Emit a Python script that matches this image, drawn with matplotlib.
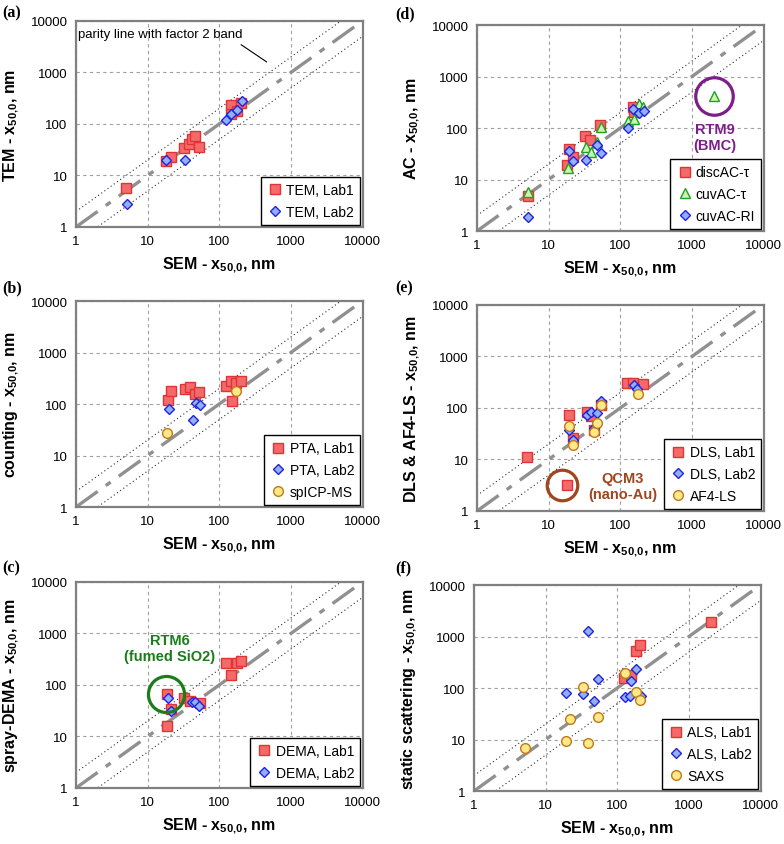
import numpy as np
import matplotlib
matplotlib.use("Agg")
import matplotlib.pyplot as plt

plt.rcParams['font.family'] = ['Liberation Sans', 'DejaVu Sans']
plt.rcParams['mathtext.fontset'] = 'custom'
plt.rcParams['mathtext.rm'] = 'Liberation Sans:bold'
plt.rcParams['mathtext.it'] = 'Liberation Sans:bold'
plt.rcParams['mathtext.bf'] = 'Liberation Sans:bold'

# ---- data (SEM x50,0 vs. other method, nm) ----
# (a) TEM
tem1_x = [5.0, 18, 21, 32.5, 38, 42, 46, 52, 146, 146, 176, 203]
tem1_y = [5.7, 19.5, 22.6, 34, 40.5, 50, 57.5, 35, 232, 156, 182, 255]
tem2_x = [5.1, 18.2, 33, 125, 147, 176, 208]
tem2_y = [2.75, 19.8, 20.4, 121, 157, 184, 280]

# (b) counting
pta1_x = [19.3, 21.5, 33.3, 39, 46, 52, 124, 146, 172, 204, 150]
pta1_y = [120, 181, 192, 210, 154, 168, 220, 283, 255, 283, 113]
pta2_x = [19.8, 47, 54, 42.7]
pta2_y = [80, 105, 96, 50]
spicp_x = [18.5, 172]
spicp_y = [27, 181]

# (c) spray-DEMA
dema1_x = [18.5, 18.5, 21.2, 32, 38.9, 53.5, 125, 147, 175, 204]
dema1_y = [66.9, 16.2, 34.2, 55, 48.9, 44, 267, 156, 267, 297]
dema2_x = [19.1, 21.2, 41.9, 46.6, 52.8]
dema2_y = [55, 30.8, 46, 47.4, 39.7]

# (d) AC
disc_x = [5.1, 18, 19, 21.6, 32.5, 37.8, 52, 149, 156]
disc_y = [4.7, 19.3, 38.4, 27.2, 70, 57.5, 113, 256, 205]
cuvt_x = [5.2, 18.6, 33, 39, 46.8, 53, 128, 156, 180, 209, 2050]
cuvt_y = [5.7, 17.1, 42.7, 35, 53.4, 105, 137, 152, 298, 256, 414]
cuvri_x = [5.2, 19, 21.6, 33.5, 47.3, 53, 128, 152, 180, 213]
cuvri_y = [1.87, 36, 23.4, 24.2, 47.3, 33, 101, 238, 199, 211]

# (e) DLS & AF4-LS
dls1_x = [5.0, 17.8, 19.1, 21.8, 34, 39.1, 42.7, 53.8, 124, 152, 211]
dls1_y = [11.3, 3.2, 71.8, 26.2, 82, 69.7, 38.2, 113, 300, 300, 291]
dls2_x = [19.4, 21.8, 34, 39.1, 42.7, 47.3, 53.8, 156, 174]
dls2_y = [37.6, 23.9, 74, 83.6, 40, 79.8, 135, 278, 232]
af4_x = [19.4, 21.8, 42.7, 47.3, 53.8, 178]
af4_y = [44.4, 18.8, 33.8, 51.5, 113, 191]

# (f) static scattering
als1_x = [126, 153, 180, 209, 2020]
als1_y = [156, 176, 515, 673, 1890]
als2_x = [19, 33.2, 39, 47.2, 53.7, 129, 149, 155, 184, 216]
als2_y = [81, 75.4, 1280, 55, 147, 68, 70, 137, 237, 70]
saxs_x = [5.1, 19, 21.6, 33.2, 39, 53.2, 128, 180, 209]
saxs_y = [6.8, 9.2, 25.4, 106, 8.4, 27.7, 195, 83.6, 58.5]

ticks = [1, 10, 100, 1000, 10000]
tick_labels = ['1', '10', '100', '1000', '10000']

RED = dict(marker='s', ms=7.4, mfc='#f46a6a', mec='#e03434', mew=1.0, ls='none')
BLUE = dict(marker='D', ms=5.4, mfc='#90b0ff', mec='#2222dd', mew=1.0, ls='none')
YEL = dict(marker='o', ms=7.0, mfc='#ffe888', mec='#c07818', mew=1.0, ls='none')
GRN = dict(marker='^', ms=7.8, mfc='#c8f4b8', mec='#22a022', mew=1.0, ls='none')

SUB = r' - $x_{50{,}0}$, nm'


def setup(ax, ylabel):
    ax.set_xscale('log')
    ax.set_yscale('log')
    ax.set_xlim(1, 10000)
    ax.set_ylim(1, 10000)
    ax.set_xticks(ticks)
    ax.set_xticklabels(tick_labels)
    ax.set_yticks(ticks)
    ax.set_yticklabels(tick_labels)
    ax.minorticks_off()
    ax.tick_params(length=0, pad=6, labelsize=9.5)
    ax.grid(True, color='#a0a0a0', ls=(0, (3, 3)), lw=0.8)
    ax.set_axisbelow(True)
    for s in ax.spines.values():
        s.set_color('#808080')
        s.set_linewidth(1.6)
    xx = np.array([1, 10000])
    ax.plot(xx, xx, color='#909090', lw=2.4, ls=(0, (8, 3, 1.8, 3)), zorder=1.5)
    ax.plot(xx, 2 * xx, color='#303030', lw=0.8, ls=(0, (1, 2.5)), zorder=1.5)
    ax.plot(xx, xx / 2, color='#303030', lw=0.8, ls=(0, (1, 2.5)), zorder=1.5)
    ax.set_xlabel('SEM' + SUB, fontsize=11.5, fontweight='bold', labelpad=5)
    ax.set_ylabel(ylabel + SUB, fontsize=11.5, fontweight='bold', labelpad=7)


def legend(ax):
    leg = ax.legend(loc='lower right', fontsize=10, frameon=True, fancybox=False,
                    edgecolor='black', borderaxespad=0.15, handletextpad=0.2,
                    handlelength=1.2, labelspacing=0.55, borderpad=0.45)
    leg.get_frame().set_linewidth(1.0)
    leg.get_frame().set_alpha(1)


fig = plt.figure(figsize=(7.84, 8.45), dpi=100)
W, H = 0.3655, 0.2438
ax_a = fig.add_axes([0.0969, 0.7302, W, H])
ax_d = fig.add_axes([0.6084, 0.7254, W, H])
ax_b = fig.add_axes([0.0969, 0.3988, W, H])
ax_e = fig.add_axes([0.6084, 0.3941, W, H])
ax_c = fig.add_axes([0.0969, 0.0663, W, H])
ax_f = fig.add_axes([0.6046, 0.0627, W, H])

# panel letters (pixel positions from top-left)
for lab, px, py in [('(a)', 2, 13), ('(d)', 395, 14), ('(b)', 2, 288),
                    ('(e)', 395, 288), ('(c)', 2, 568), ('(f)', 395, 568)]:
    fig.text(px / 784, 1 - py / 845, lab, fontsize=11.5, fontweight='bold',
             family='Liberation Serif', va='center', ha='left')

# (a)
setup(ax_a, 'TEM')
ax_a.plot(tem1_x, tem1_y, label='TEM, Lab1', **RED)
ax_a.plot(tem2_x, tem2_y, label='TEM, Lab2', **BLUE)
legend(ax_a)
ax_a.annotate('parity line with factor 2 band', xy=(460, 1600), xytext=(1.08, 5500),
              fontsize=9.5, va='center', ha='left',
              arrowprops=dict(arrowstyle='-', color='black', lw=0.8,
                              shrinkA=2, shrinkB=0, relpos=(0.95, 0.0)))

# (b)
setup(ax_b, 'counting')
ax_b.plot(pta1_x, pta1_y, label='PTA, Lab1', **RED)
ax_b.plot(pta2_x, pta2_y, label='PTA, Lab2', **BLUE)
ax_b.plot(spicp_x, spicp_y, label='spICP-MS', **YEL)
legend(ax_b)

# (c)
setup(ax_c, 'spray-DEMA')
ax_c.plot(dema1_x, dema1_y, label='DEMA, Lab1', **RED)
ax_c.plot(dema2_x, dema2_y, label='DEMA, Lab2', **BLUE)
legend(ax_c)
ax_c.plot([18.3], [68], marker='o', ms=26, mfc='none', mec='#1a7d1a', mew=2.3, ls='none')
ax_c.text(20.4, 1000, 'RTM6\n(fumed SiO2)', color='#1a7d1a', fontsize=10.5,
          fontweight='bold', ha='center', va='top', linespacing=1.15)

# (d)
setup(ax_d, 'AC')
ax_d.plot(disc_x, disc_y, label='discAC-τ', **RED)
ax_d.plot(cuvt_x, cuvt_y, label='cuvAC-τ', **GRN)
ax_d.plot(cuvri_x, cuvri_y, label='cuvAC-RI', **BLUE)
legend(ax_d)
ax_d.plot([2050], [420], marker='o', ms=27, mfc='none', mec='#7d1f8a', mew=2.3, ls='none')
ax_d.text(2075, 130, 'RTM9\n(BMC)', color='#7d1f8a', fontsize=10.5,
          fontweight='bold', ha='center', va='top', linespacing=1.15)

# (e)
setup(ax_e, 'DLS & AF4-LS')
ax_e.plot(dls1_x, dls1_y, label='DLS, Lab1', **RED)
ax_e.plot(dls2_x, dls2_y, label='DLS, Lab2', **BLUE)
ax_e.plot(af4_x, af4_y, label='AF4-LS', **YEL)
legend(ax_e)
ax_e.plot([15.5], [3.2], marker='o', ms=22, mfc='none', mec='#a0461e', mew=2.3, ls='none')
ax_e.text(107, 6.0, 'QCM3\n(nano-Au)', color='#a0461e', fontsize=10.5,
          fontweight='bold', ha='center', va='top', linespacing=1.15)

# (f)
setup(ax_f, 'static scattering')
ax_f.plot(als1_x, als1_y, label='ALS, Lab1', **RED)
ax_f.plot(als2_x, als2_y, label='ALS, Lab2', **BLUE)
ax_f.plot(saxs_x, saxs_y, label='SAXS', **YEL)
legend(ax_f)

fig.savefig('out.png', dpi=100)
